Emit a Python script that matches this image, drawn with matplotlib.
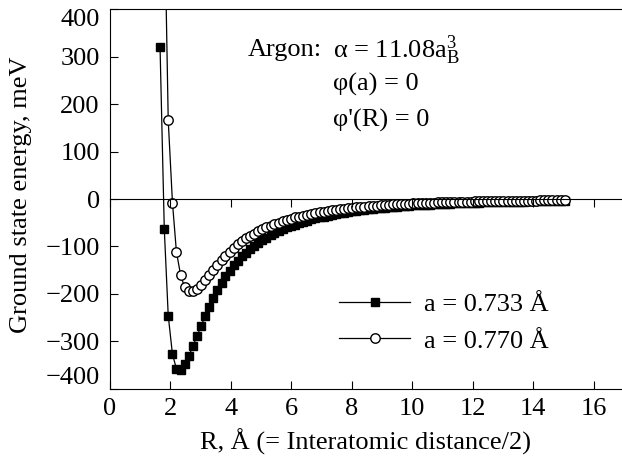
import matplotlib
matplotlib.use("Agg")
import matplotlib.pyplot as plt

plt.rcParams['font.family'] = ['Liberation Serif', 'DejaVu Serif']
plt.rcParams['mathtext.fontset'] = 'custom'
plt.rcParams['mathtext.rm'] = 'Liberation Serif'
plt.rcParams['mathtext.it'] = 'Liberation Serif:italic'

# R values (Angstrom), common grid
R = [1.67, 1.81, 1.94, 2.08, 2.21, 2.35, 2.48, 2.62, 2.75, 2.89,
     3.02, 3.16, 3.29, 3.43, 3.56, 3.70, 3.83, 3.97, 4.10, 4.24,
     4.37, 4.51, 4.64, 4.78, 4.91, 5.05, 5.18, 5.32, 5.45, 5.59,
     5.72, 5.86, 5.99, 6.13, 6.26, 6.40, 6.53, 6.67, 6.80, 6.94,
     7.07, 7.21, 7.34, 7.48, 7.61, 7.75, 7.88, 8.02, 8.15, 8.29,
     8.42, 8.56, 8.69, 8.83, 8.96, 9.10, 9.23, 9.37, 9.50, 9.64,
     9.77, 9.91, 10.04, 10.18, 10.31, 10.45, 10.58, 10.72, 10.85, 10.99,
     11.12, 11.26, 11.39, 11.53, 11.66, 11.80, 11.93, 12.07, 12.20, 12.34,
     12.47, 12.61, 12.74, 12.88, 13.01, 13.15, 13.28, 13.42, 13.55, 13.69,
     13.82, 13.96, 14.09, 14.23, 14.36, 14.50, 14.63, 14.77, 14.90, 15.04]

# a = 0.733 A  (filled squares)
E_733 = [320, -64, -246, -328, -358, -360, -349, -332, -311, -290,
         -268, -248, -228, -209, -192, -177, -163, -151, -140, -130,
         -121, -113, -106, -99, -93, -87, -82, -77, -72, -68,
         -64, -60, -57, -54, -51, -48, -46, -43, -41, -39,
         -37, -35, -33.5, -32, -30.5, -29, -27.5, -26, -25, -24,
         -23, -22, -21, -20, -19.2, -18.4, -17.6, -16.9, -16.2, -15.5,
         -14.9, -14.3, -13.7, -13.2, -12.7, -12.2, -11.7, -11.3, -10.9, -10.5,
         -10.1, -9.7, -9.4, -9.0, -8.7, -8.4, -8.1, -7.8, -7.6, -7.3,
         -7.1, -6.8, -6.6, -6.4, -6.2, -6.0, -5.8, -5.6, -5.4, -5.3,
         -5.1, -4.9, -4.8, -4.6, -4.5, -4.4, -4.2, -4.1, -4.0, -3.9]

# a = 0.770 A  (open circles), starts at the second grid point
E_770 = [630, 166, -8, -111, -161, -186, -195, -194, -189,
         -182, -172, -161, -150, -139, -129, -120, -111, -103, -96,
         -89, -83, -78, -73, -68, -64, -60, -56, -53, -50,
         -47, -44, -41.5, -39, -37, -35, -33, -31, -29.5, -28,
         -26.5, -25, -23.8, -22.6, -21.5, -20.4, -19.4, -18.4, -17.5, -16.7,
         -15.9, -15.2, -14.5, -13.8, -13.2, -12.6, -12.0, -11.5, -11.0, -10.5,
         -10.1, -9.7, -9.3, -8.9, -8.5, -8.2, -7.9, -7.6, -7.3, -7.0,
         -6.7, -6.5, -6.2, -6.0, -5.8, -5.6, -5.4, -5.2, -5.0, -4.8,
         -4.7, -4.5, -4.4, -4.2, -4.1, -3.9, -3.8, -3.7, -3.6, -3.5,
         -3.4, -3.3, -3.2, -3.1, -3.0, -2.9, -2.8, -2.7, -2.6, -2.5]

labels = ["a = 0.733 Å", "a = 0.770 Å"]
xticks = [0, 2, 4, 6, 8, 10, 12, 14, 16]
yticks = [-400, -300, -200, -100, 0, 100, 200, 300, 400]

fs = 19
fig = plt.figure(figsize=(6.22, 4.57), dpi=100)
ax = fig.add_axes([109.5 / 622, (457 - 388.5) / 457, 512.5 / 622, 379 / 457])

ax.plot(R, E_733, '-s', color='black', lw=0.9, ms=6.3, mfc='black', mec='black',
        label=labels[0])
ax.plot(R[1:], E_770, '-o', color='black', lw=0.9, ms=6.8, mfc='white', mec='black',
        mew=1.0, label=labels[1])

ax.set_xlim(0, 16.93)
ax.set_ylim(-400, 400)
ax.set_xticks(xticks)
ax.set_yticks(yticks)
ax.tick_params(direction='in', length=6, width=0.8, labelsize=fs, top=False, right=False)
ax.tick_params(axis='x', pad=7)
ax.tick_params(axis='y', pad=7)
# end labels pulled inside the axis range, as in the original
ylabs = ax.get_yticklabels()
ylabs[0].set_va('bottom')
ylabs[-1].set_va('top')

ax.spines['right'].set_visible(False)
for s in ['left', 'bottom', 'top']:
    ax.spines[s].set_linewidth(0.8)

# zero line with downward ticks
ax2 = ax.twiny()
ax2.set_xlim(ax.get_xlim())
ax2.set_xticks(xticks)
for s in ['top', 'left', 'right']:
    ax2.spines[s].set_visible(False)
ax2.spines['bottom'].set_position(('data', 0))
ax2.spines['bottom'].set_linewidth(0.8)
ax2.xaxis.set_ticks_position('bottom')
ax2.tick_params(axis='x', direction='out', length=6, width=0.8, labelbottom=False)

ax.set_xlabel("R, Å (= Interatomic distance/2)", fontsize=fs)
ax.xaxis.set_label_coords(0.5, -0.141)
ax.xaxis.label.set_va('center')
ax.set_ylabel("Ground state energy, meV", fontsize=fs)
ax.yaxis.set_label_coords(-0.172, 0.51)
ax.yaxis.label.set_va('center')

ax.text(0.270, 0.893, "Argon:", fontsize=fs, transform=ax.transAxes, va='center')
ax.text(0.436, 0.893, r"α = 11.08a$_\mathrm{B}^\mathrm{3}$", fontsize=fs,
        transform=ax.transAxes, va='center')
ax.text(0.436, 0.801, "φ(a) = 0", fontsize=fs, transform=ax.transAxes, va='center')
ax.text(0.436, 0.706, "φ'(R) = 0", fontsize=fs, transform=ax.transAxes, va='center')

leg = ax.legend(loc='upper left', bbox_to_anchor=(0.448, 0.252), frameon=False,
                fontsize=fs, handlelength=2.7, handletextpad=0.5, borderpad=0,
                borderaxespad=0, labelspacing=0.48)

fig.savefig("out.png", dpi=100)
